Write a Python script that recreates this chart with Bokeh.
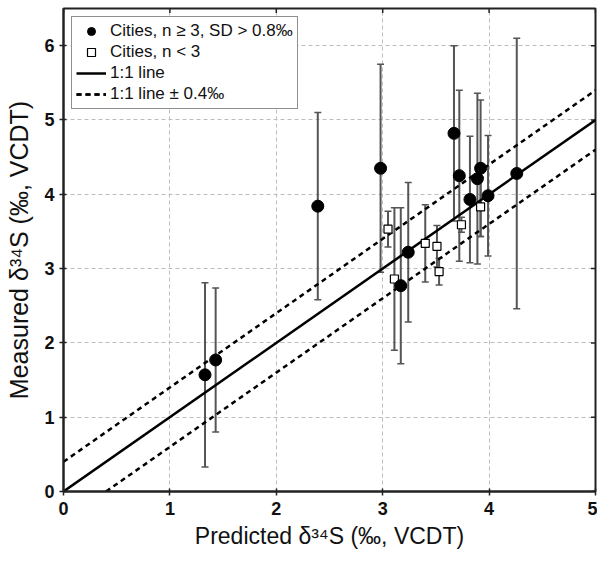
import math
from bokeh.plotting import figure
from bokeh.models import (Whisker, ColumnDataSource, FixedTicker,
                          Range1d, TeeHead, Legend, LegendItem)
from bokeh.embed import file_html
from bokeh.resources import INLINE

# ---- data ----
filled_x = [1.33, 1.43, 2.39, 2.98, 3.17, 3.24, 3.67, 3.72, 3.82, 3.89, 3.92, 3.99, 4.26]
filled_y = [1.57, 1.77, 3.84, 4.35, 2.77, 3.22, 4.82, 4.25, 3.93, 4.21, 4.35, 3.98, 4.28]
filled_err = [1.24, 0.97, 1.26, 1.40, 1.05, 0.94, 1.18, 1.15, 0.85, 1.15, 0.92, 0.81, 1.82]

open_x = [3.05, 3.11, 3.40, 3.51, 3.53, 3.74, 3.92]
open_y = [3.53, 2.86, 3.34, 3.30, 2.96, 3.59, 3.83]
open_err = [0.24, 0.96, 0.52, 0.28, 0.18, 0.10, 0.40]

x_ticks = [0, 1, 2, 3, 4, 5]
y_ticks = [0, 1, 2, 3, 4, 5, 6]
x_range = (0, 5)
y_range = (0, 6.5)
line_offset = 0.4

legend_labels = ["Cities, n \u2265 3, SD > 0.8\u2030", "Cities, n < 3",
                 "1:1 line", "1:1 line \u00b1 0.4\u2030"]
x_label = "Predicted \u03b4\u00b3\u2074S (\u2030, VCDT)"
y_label = "Measured \u03b4\u00b3\u2074S (\u2030, VCDT)"

FONT = "Liberation Sans"
INK = "#222222"

fs = ColumnDataSource(dict(x=filled_x, y=filled_y,
                           lo=[a - e for a, e in zip(filled_y, filled_err)],
                           hi=[a + e for a, e in zip(filled_y, filled_err)]))
os_ = ColumnDataSource(dict(x=open_x, y=open_y,
                            lo=[a - e for a, e in zip(open_y, open_err)],
                            hi=[a + e for a, e in zip(open_y, open_err)]))

p = figure(width=597, height=552, output_backend="svg", toolbar_location=None,
           x_range=Range1d(*x_range), y_range=Range1d(*y_range),
           min_border_left=63, min_border_right=2, min_border_top=8,
           min_border_bottom=61)
p.background_fill_color = "white"
p.border_fill_color = "white"
p.outline_line_color = INK
p.outline_line_width = 2

# grid
for g in (p.xgrid, p.ygrid):
    g.grid_line_color = "#bdbdbd"
    g.grid_line_dash = "4 3"
    g.grid_line_width = 1
p.xgrid.ticker = FixedTicker(ticks=x_ticks)
p.ygrid.ticker = FixedTicker(ticks=y_ticks)

# axes
p.xaxis.ticker = FixedTicker(ticks=x_ticks)
p.yaxis.ticker = FixedTicker(ticks=y_ticks)
for ax in (p.xaxis[0], p.yaxis[0]):
    ax.axis_line_color = INK
    ax.axis_line_width = 2
    ax.major_tick_line_color = INK
    ax.major_tick_line_width = 1.5
    ax.major_tick_in = 3
    ax.major_tick_out = 4
    ax.minor_tick_line_color = None
    ax.major_label_text_font = FONT
    ax.major_label_text_font_style = "bold"
    ax.major_label_text_font_size = "18px"
    ax.major_label_text_color = "#111111"
    ax.axis_label_text_font = FONT
    ax.axis_label_text_font_style = "normal"
    ax.axis_label_text_color = "#111111"
p.xaxis.axis_label = x_label
p.xaxis.axis_label_text_font_size = "23px"
p.xaxis.major_label_standoff = 6
p.xaxis.axis_label_standoff = 5
p.yaxis.axis_label = y_label
p.yaxis.axis_label_text_font_size = "25px"
p.yaxis.major_label_standoff = 5
p.yaxis.axis_label_standoff = 8

# inward tick marks on the top and right frame edges
p.scatter(x_ticks, [y_range[1]] * len(x_ticks), marker="dash", angle=math.pi / 2,
          size=9, line_color=INK, line_width=1.5)
p.scatter([x_range[1]] * len(y_ticks), y_ticks, marker="dash",
          size=9, line_color=INK, line_width=1.5)

# 1:1 lines
lx = list(x_range)
solid = p.line(lx, [v for v in lx], line_color="black", line_width=2.5)
up_x = [x_range[0], x_range[1]]
dash_up = p.line(up_x, [v + line_offset for v in up_x], line_color="black",
                 line_width=2.5, line_dash="5 4")
lo_x = [x_range[0] + line_offset, x_range[1]]
dash_lo = p.line(lo_x, [v - line_offset for v in lo_x], line_color="black",
                 line_width=2.5, line_dash="5 4")

# error bars
for src in (fs, os_):
    w = Whisker(source=src, base="x", lower="lo", upper="hi", dimension="height",
                line_color="#555555", line_width=2,
                upper_head=TeeHead(size=7, line_color="#555555", line_width=1.5),
                lower_head=TeeHead(size=7, line_color="#555555", line_width=1.5))
    p.add_layout(w)

# points
r_open = p.scatter("x", "y", source=os_, marker="square", size=8,
                   fill_color="white", line_color="black", line_width=1.2)
r_fill = p.scatter("x", "y", source=fs, marker="circle", size=12,
                   fill_color="black", line_color="black")

legend = Legend(items=[
    LegendItem(label=legend_labels[0], renderers=[r_fill]),
    LegendItem(label=legend_labels[1], renderers=[r_open]),
    LegendItem(label=legend_labels[2], renderers=[solid]),
    LegendItem(label=legend_labels[3], renderers=[dash_up, dash_lo]),
], location="top_left")
legend.margin = 8
legend.padding = 4
legend.spacing = 1
legend.label_text_font = FONT
legend.label_text_font_size = "17px"
legend.label_text_color = "#111111"
legend.label_height = 20
legend.glyph_height = 20
legend.glyph_width = 30
legend.label_standoff = 4
legend.border_line_color = INK
legend.border_line_width = 1.5
legend.background_fill_color = "white"
legend.background_fill_alpha = 1
p.add_layout(legend)

open("out.html", "w").write(file_html(p, INLINE))
